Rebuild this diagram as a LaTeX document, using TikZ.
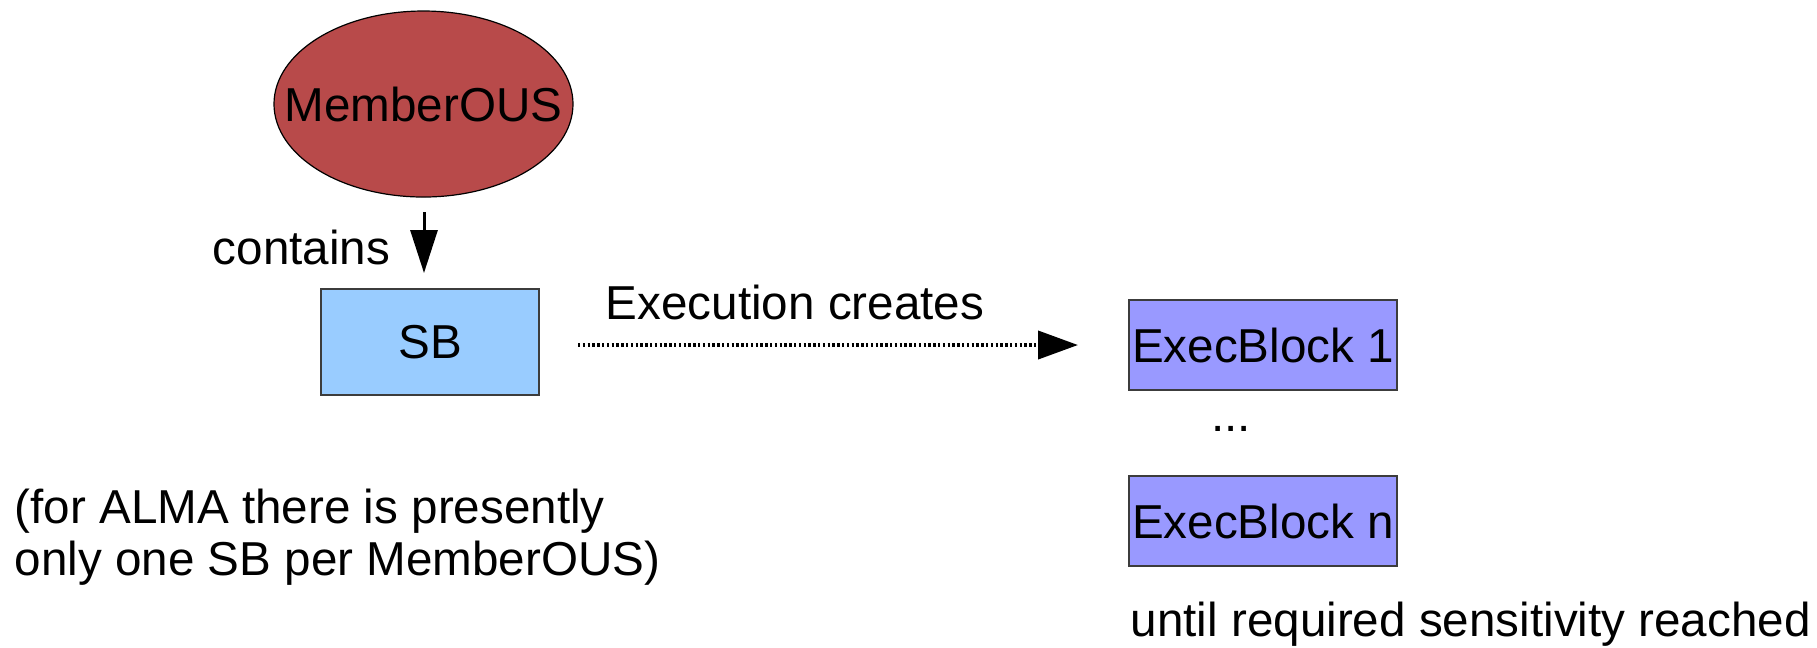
\documentclass[tikz,border=0pt]{standalone}
\usepackage{fontspec}
\setmainfont{Liberation Sans}
\usetikzlibrary{shapes.geometric,arrows.meta}
\definecolor{ousred}{RGB}{184,74,74}
\definecolor{sbblue}{RGB}{153,204,255}
\definecolor{ebviolet}{RGB}{153,153,255}
\definecolor{edgegray}{RGB}{60,60,60}
\tikzset{
  lbl/.style={inner sep=0pt, font=\fontsize{11.9bp}{13bp}\selectfont},
  ousnode/.style={ellipse, draw=black, line width=0.3bp, fill=ousred, inner sep=0pt,
    minimum width=74.75bp, minimum height=46.5bp, font=\fontsize{11.9bp}{13bp}\selectfont},
  sbbox/.style={rectangle, draw=edgegray, line width=0.4bp, fill=sbblue, inner sep=0pt,
    minimum width=54.5bp, minimum height=26.5bp, font=\fontsize{11.9bp}{13bp}\selectfont},
  ebbox/.style={rectangle, draw=edgegray, line width=0.4bp, fill=ebviolet, inner sep=0pt,
    minimum width=67bp, minimum height=22.5bp, font=\fontsize{11.9bp}{13bp}\selectfont},
  containsarrow/.style={line width=0.75bp, -{Triangle[length=10.75bp, width=6.75bp]}},
  execarrow/.style={line width=1bp, dash pattern=on 0.6bp off 0.6bp,
    -{Triangle[length=10bp, width=7bp, sep=0pt]}},
}
\begin{document}
\begin{tikzpicture}[x=0.25bp, y=-0.25bp]
\useasboundingbox (0,0) rectangle (1817,647);
\node[ousnode] (ous) at (423.5,104) {\makebox[0pt][c]{MemberOUS}};
\node[sbbox] (sb) at (430,342) {SB};
\node[ebbox] (eb1) at (1263,345) {ExecBlock 1};
\node[ebbox] (ebn) at (1263,521) {ExecBlock n};
\coordinate (ca) at (424,212);
\coordinate (cb) at (424,273);
\draw[containsarrow] (ca) -- (cb);
\node[lbl, anchor=base west] (contains) at (212,264) {contains};
\coordinate (ea) at (578,345);
\coordinate (eb) at (1078,345);
\draw[execarrow] (ea) -- (eb);
\node[lbl, anchor=base west] (exec) at (605,319) {Execution creates};
\node[lbl, anchor=base] (dots) at (1231,431) {...};
\node[lbl, anchor=north west, align=left] (note) at (14,488) {(for ALMA there is presently\\only one SB per MemberOUS)};
\node[lbl, anchor=base west] (until) at (1130,636) {until required sensitivity reached};
\end{tikzpicture}
\end{document}
